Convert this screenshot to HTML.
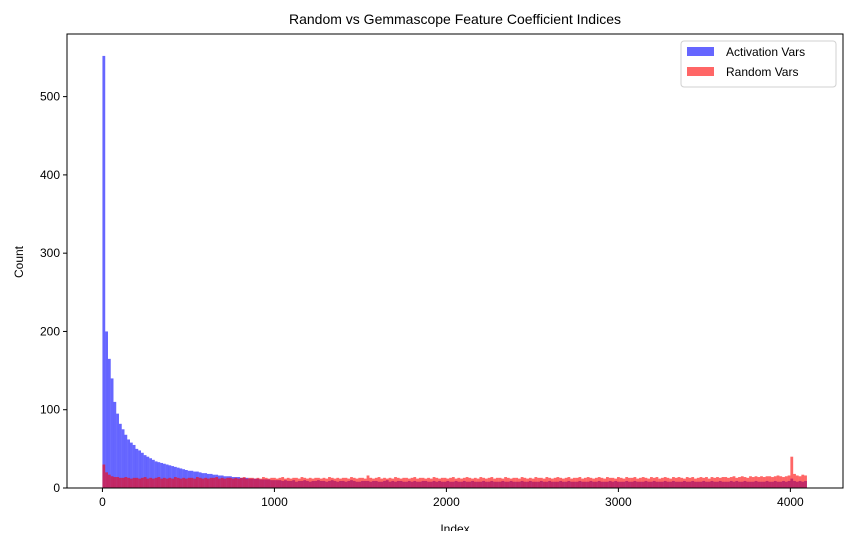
<!DOCTYPE html>
<html><head><meta charset="utf-8"><style>
html,body{margin:0;padding:0;background:#fff;}
svg text{font-family:"Liberation Sans","DejaVu Sans",sans-serif;fill:#000;}
</style></head><body>
<svg id="chart" width="854" height="531" xmlns="http://www.w3.org/2000/svg">
<rect width="854" height="531" fill="#fff"/>
<text x="455" y="24" font-size="14" text-anchor="middle">Random vs Gemmascope Feature Coefficient Indices</text>
<g id="bars"></g>
<g id="axes"></g>
<text transform="translate(23,262) rotate(-90)" font-size="12" text-anchor="middle">Count</text>
<text x="455" y="533" font-size="12" text-anchor="middle">Index</text>
<g>
<rect x="681" y="41" width="155" height="46" rx="3" fill="#fff" stroke="#ccc" stroke-width="1" opacity="0.9"/>
<rect x="687" y="47" width="27" height="9" fill="#0000ff" fill-opacity="0.6"/>
<text x="726" y="56" font-size="12">Activation Vars</text>
<rect x="687" y="67" width="27" height="9" fill="#ff0000" fill-opacity="0.6"/>
<text x="726" y="76" font-size="12">Random Vars</text>
</g>
</svg>
<script>
const binWidth = 16;
const activationCounts = [552,200,165,140,110,95,82,75,68,62,58,55,50,48,45,42,
40,38,36,34,33,32,31,30,29,28,27,26,25,24,23,22,
22,21,21,20,19,19,18,18,17,17,16,16,15,15,15,14,
14,14,13,13,13,12,12,12,12,11,11,11,11,10,10,10,
10,9,10,9,9,10,8,9,9,10,9,8,9,9,10,9,
9,8,9,10,9,8,9,9,8,9,10,9,8,8,9,9,
9,8,9,9,8,8,9,10,8,9,8,9,9,8,8,9,
8,9,8,8,9,9,8,8,9,8,9,8,8,9,8,8,
9,8,8,9,8,8,9,8,8,8,9,8,8,9,8,8,
8,9,8,8,9,8,8,8,9,8,8,9,8,8,8,9,
8,8,9,8,8,8,9,8,8,9,8,8,8,9,8,8,
8,9,8,8,9,8,8,8,9,8,9,8,8,8,9,8,
8,9,8,8,8,9,8,8,9,8,8,8,9,8,8,9,
8,8,8,9,8,8,9,8,8,8,9,8,8,9,8,8,
9,8,8,8,9,8,9,8,8,9,8,8,8,9,8,8,
8,9,8,8,9,8,8,9,8,9,12,9,8,9,8,9];
const randomCounts = [30,20,17,15,14,14,13,13,14,13,12,13,13,12,13,14,
12,13,12,13,14,12,13,12,13,12,14,13,12,13,12,13,
13,12,14,13,12,13,12,13,13,14,12,13,12,13,13,12,
13,12,13,14,12,13,13,12,13,12,14,13,12,13,13,12,
13,14,12,13,12,13,13,12,14,13,12,13,12,13,13,12,
13,12,14,13,12,13,12,13,13,12,14,13,12,13,13,12,
16,13,12,13,14,12,13,12,13,12,14,13,12,13,13,12,
13,14,12,13,13,12,13,12,14,13,12,13,13,12,13,14,
12,13,12,13,14,13,12,13,12,14,13,12,13,14,12,13,
13,12,14,13,12,13,13,12,14,13,12,13,12,14,13,13,
12,14,13,12,13,14,13,12,13,14,12,13,13,14,12,13,
14,13,12,13,14,13,12,14,13,13,12,14,13,12,14,13,
13,14,12,13,14,13,12,14,13,14,12,13,14,13,12,14,
13,14,13,12,14,13,14,12,13,14,13,14,12,14,13,14,
13,14,14,13,14,15,13,14,15,14,13,15,14,15,14,15,
14,15,15,14,15,16,15,14,15,16,40,18,16,15,17,16];
const xTicks = [0,1000,2000,3000,4000];
const yTicks = [0,100,200,300,400,500];

const L=67,R=843,T=34,B=488;
const xMin=-206,xMax=4306,yMax=580;
const xs=v=>L+(v-xMin)/(xMax-xMin)*(R-L);
const ys=v=>B-v/yMax*(B-T);
const NS='http://www.w3.org/2000/svg';
const bars=document.getElementById('bars');
function drawSeries(arr,color,name){
  arr.forEach((c,i)=>{
    const x0=xs(i*binWidth),x1=xs((i+1)*binWidth);
    const r=document.createElementNS(NS,'rect');
    r.setAttribute('x',x0);r.setAttribute('width',x1-x0+0.05);
    r.setAttribute('y',ys(c));r.setAttribute('height',B-ys(c));
    r.setAttribute('fill',color);r.setAttribute('fill-opacity','0.6');
    
    
    bars.appendChild(r);
  });
}
drawSeries(activationCounts,'#0000ff','activation-bar');
drawSeries(randomCounts,'#ff0000','random-bar');

const axes=document.getElementById('axes');
const frame=document.createElementNS(NS,'rect');
frame.setAttribute('x',L);frame.setAttribute('y',T);frame.setAttribute('width',R-L);frame.setAttribute('height',B-T);
frame.setAttribute('fill','none');frame.setAttribute('stroke','#000');frame.setAttribute('stroke-width','1');


axes.appendChild(frame);
xTicks.forEach(t=>{
  const x=xs(t);
  const l=document.createElementNS(NS,'line');
  l.setAttribute('x1',x);l.setAttribute('x2',x);l.setAttribute('y1',B);l.setAttribute('y2',B+4);l.setAttribute('stroke','#000');
  
  
  axes.appendChild(l);
  const tx=document.createElementNS(NS,'text');
  tx.setAttribute('x',x);tx.setAttribute('y',B+18);tx.setAttribute('font-size','12');tx.setAttribute('text-anchor','middle');
  tx.textContent=t;
  
  
  axes.appendChild(tx);
});
yTicks.forEach(t=>{
  const y=ys(t);
  const l=document.createElementNS(NS,'line');
  l.setAttribute('x1',L-4);l.setAttribute('x2',L);l.setAttribute('y1',y);l.setAttribute('y2',y);l.setAttribute('stroke','#000');
  
  
  axes.appendChild(l);
  const tx=document.createElementNS(NS,'text');
  tx.setAttribute('x',L-7);tx.setAttribute('y',y+4);tx.setAttribute('font-size','12');tx.setAttribute('text-anchor','end');
  tx.textContent=t;
  
  
  axes.appendChild(tx);
});
</script>
</body></html>
